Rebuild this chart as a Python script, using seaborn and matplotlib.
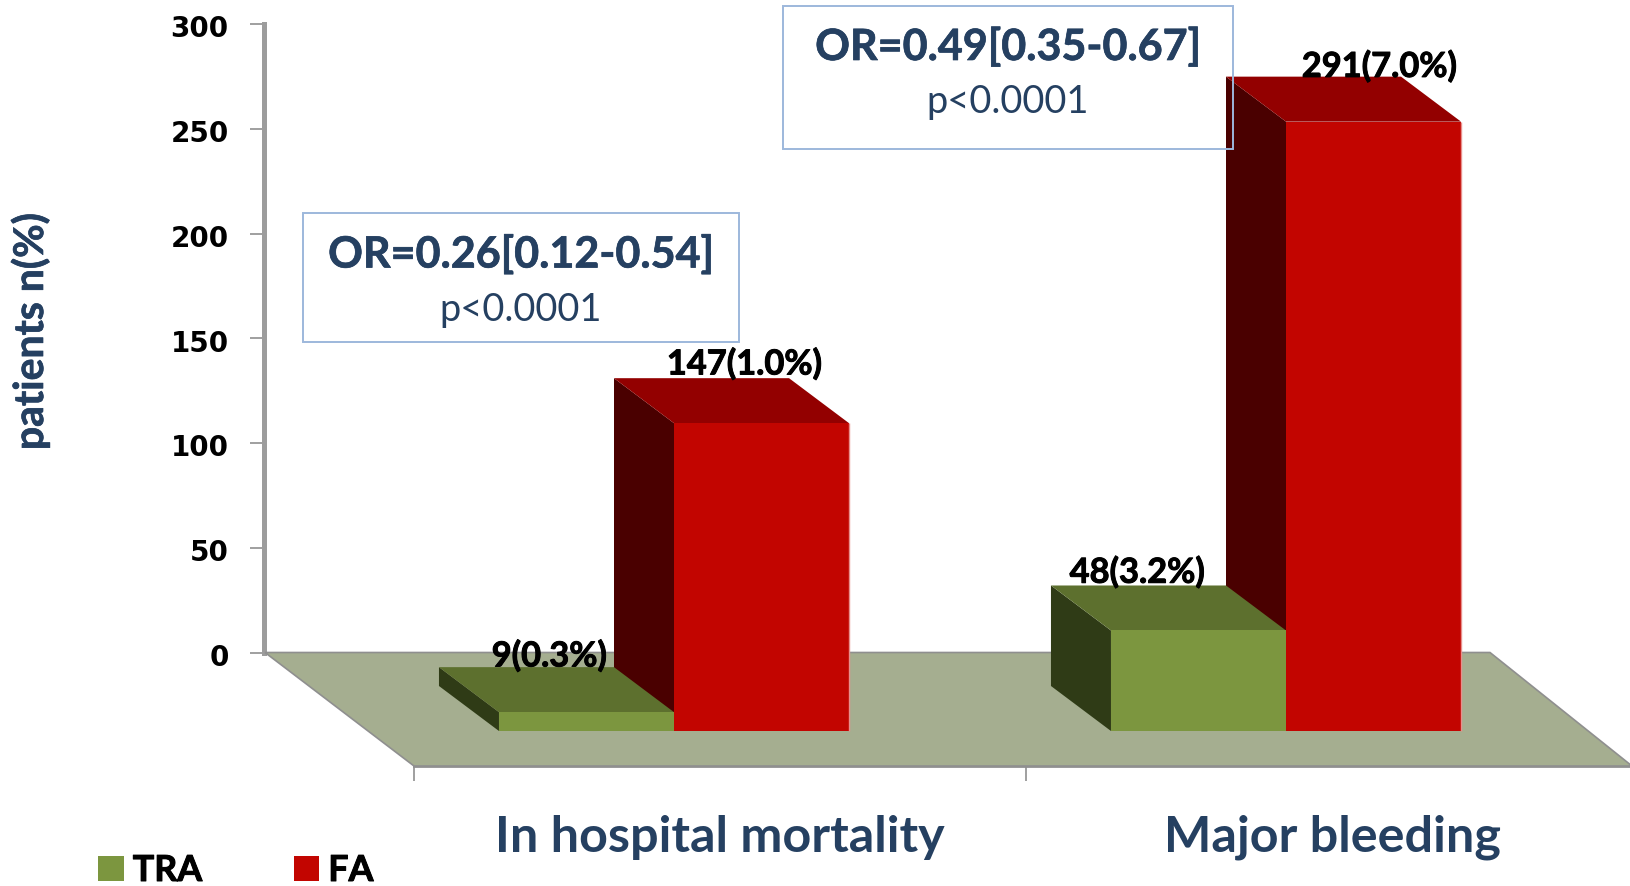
import pandas as pd
import seaborn as sns
import matplotlib.pyplot as plt
import matplotlib.patheffects as pe
from matplotlib.patches import Polygon, Rectangle
from matplotlib.transforms import ScaledTranslation

W, H = 1631, 887

# data
outcomes = ['In hospital mortality', 'Major bleeding']
groups = ['TRA', 'FA']
tra_counts = [9, 48]
fa_counts = [147, 291]
tra_pct = ['0.3%', '3.2%']
fa_pct = ['1.0%', '7.0%']
y_ticks = [0, 50, 100, 150, 200, 250, 300]
or_text = ['OR=0.26[0.12-0.54]', 'OR=0.49[0.35-0.67]']
p_text = ['p<0.0001', 'p<0.0001']

NAVY = '#254061'
GREEN = ['#7C963F', '#5D702E', '#2F3B16']  # front, top, side
RED = ['#C20500', '#930000', '#4A0000']
GREY = '#8F8F8F'

df = pd.DataFrame({
    'outcome': outcomes * 2,
    'group': ['TRA'] * 2 + ['FA'] * 2,
    'patients': tra_counts + fa_counts,
})

sns.set_theme(style='white')
plt.rcParams['font.family'] = ['Lato', 'DejaVu Sans']

fig = plt.figure(figsize=(W / 100, H / 100), dpi=100)


def axes_box(x0, y_top, x1, y_bottom):
    return [x0 / W, 1 - y_bottom / H, (x1 - x0) / W, (y_bottom - y_top) / H]


def thicken(color, width=0.7):
    # Calibri bold in the original is heavier than Lato bold
    return [pe.withStroke(linewidth=width, foreground=color)]


# back wall with the value axis
ax_back = fig.add_axes(axes_box(264, 25, 1490, 653.5), zorder=0)
ax_back.patch.set_visible(False)
ax_back.set_ylim(0, 300)
ax_back.set_yticks(y_ticks)
ax_back.set_xticks([])
ax_back.tick_params(axis='y', left=True, length=10, width=1.2, color=GREY, pad=15.5)
shift_down = ScaledTranslation(0, -1 / 72, fig.dpi_scale_trans)
for lab in ax_back.get_yticklabels():
    lab.set(family='DejaVu Sans', fontweight='bold', fontsize=20, color='black')
    lab.set_transform(lab.get_transform() + shift_down)
sns.despine(ax=ax_back, bottom=True)
ax_back.spines['left'].set(color='#9C9C9C', linewidth=3.6)
ax_back.set_ylabel('patients n(%)', fontsize=29.5, fontweight='bold', color=NAVY,
                   path_effects=thicken(NAVY, 0.5))
ax_back.yaxis.set_label_coords(-214 / 1226, 0.511)

# front floor edge with the category axis
ax_front = fig.add_axes(axes_box(414, 667, 1639, 767), zorder=0)
ax_front.patch.set_visible(False)
ax_front.set_xlim(-0.5, 1.5)
ax_front.set_yticks([])
ax_front.set_xticks([0, 1], outcomes)
ax_front.set_xticks([-0.5, 0.5], minor=True)
ax_front.tick_params(axis='x', which='major', length=0, pad=34.5, labelsize=36.2, labelcolor=NAVY)
ax_front.tick_params(axis='x', which='minor', bottom=True, length=11, width=1.2, color=GREY)
for lab in ax_front.get_xticklabels():
    lab.set_fontweight('bold')
sns.despine(ax=ax_front, left=True)
ax_front.spines['bottom'].set(color=GREY, linewidth=2)

# bars: the whole figure is one axes, front plane of the bars
ax = fig.add_axes([0, 0, 1, 1], zorder=1)
sns.barplot(data=df, x='outcome', y='patients', hue='group', hue_order=groups,
            palette=[GREEN[0], RED[0]], width=0.572, gap=0, saturation=1,
            linewidth=0, ax=ax)
px_per_cat = 612
px_per_val = 2.094
x_split = 674
ax.set_xlim(-x_split / px_per_cat, (W - x_split) / px_per_cat)
ax.set_ylim((732 - H) / px_per_val, 732 / px_per_val)
ax.patch.set_visible(False)

depth_x = -60 / px_per_cat
depth_y = 45 / px_per_val


def pt(x, y):
    # pixel position to data position of the bar axes
    return (x - x_split) / px_per_cat, (732 - y) / px_per_val


floor = Polygon([pt(265, 653.5), pt(1490, 653.5), pt(1631 + 1, 767), pt(414, 767)],
                facecolor='#A5AE90', edgecolor=GREY, linewidth=1.2, zorder=0.5)
ax.add_patch(floor)

for cont, shades, zo in zip(ax.containers[::-1], [RED, GREEN], [1.5, 2]):
    for bar in cont:
        x0, w, h = bar.get_x(), bar.get_width(), bar.get_height()
        ax.add_patch(Polygon([(x0, 0), (x0, h), (x0 + depth_x, h + depth_y), (x0 + depth_x, depth_y)],
                             facecolor=shades[2], edgecolor='none', zorder=zo))
        ax.add_patch(Polygon([(x0, h), (x0 + w, h), (x0 + w + depth_x, h + depth_y), (x0 + depth_x, h + depth_y)],
                             facecolor=shades[1], edgecolor='none', zorder=zo))
        bar.set_zorder(3)

# pale rim on the right side of the red bars
for bar in ax.containers[1]:
    ax.vlines(bar.get_x() + bar.get_width(), 0, bar.get_height(), color='#E88F8C', linewidth=1, zorder=4)

# value labels, offsets in pixels from the top of each front face
label_offsets = [[(-37, 56), (-61, 58)], [(-17, 59), (6, 55)]]
for cont, counts, pcts, offs in zip(ax.containers, [tra_counts, fa_counts], [tra_pct, fa_pct], label_offsets):
    for bar, n, pc, off in zip(cont, counts, pcts, offs):
        ax.annotate(f'{n}({pc})', (bar.get_x() + bar.get_width() / 2, bar.get_height()),
                    xytext=off, textcoords='offset pixels', ha='center', va='center',
                    fontsize=24.8, fontweight='bold', color='black', zorder=5,
                    path_effects=thicken('black'))

ax.set_axis_off()

handles, labels = ax.get_legend_handles_labels()
leg = ax.legend(handles, labels, loc='lower left', bbox_to_anchor=(98 / W, -1 / H), ncol=2, frameon=False,
                prop={'weight': 'bold', 'size': 25.8}, handlelength=0.72, handleheight=0.72,
                handletextpad=0.25, columnspacing=2.55, labelcolor='black', borderpad=0, borderaxespad=0)
for t in leg.get_texts():
    t.set_path_effects(thicken('black'))

# odds ratio boxes
boxes = [(303, 214, 739, 343), (783, 6.5, 1233, 150)]
for (x0, y0, x1, y1), t_or, t_p in zip(boxes, or_text, p_text):
    fig.add_artist(Rectangle((x0 / W, 1 - y1 / H), (x1 - x0) / W, (y1 - y0) / H, transform=fig.transFigure,
                             facecolor='none', edgecolor='#9DB8DC', linewidth=1.4, zorder=6))
    xc = (x0 + x1) / 2
    fig.text(xc / W, 1 - (y0 + 41) / H, t_or, ha='center', va='center', fontsize=31,
             fontweight='bold', color=NAVY, zorder=7, path_effects=thicken(NAVY, 0.5))
    fig.text(xc / W, 1 - (y0 + 96) / H, t_p, ha='center', va='center', fontsize=27.4,
             color=NAVY, zorder=7)

fig.savefig('out.png', dpi=100)
